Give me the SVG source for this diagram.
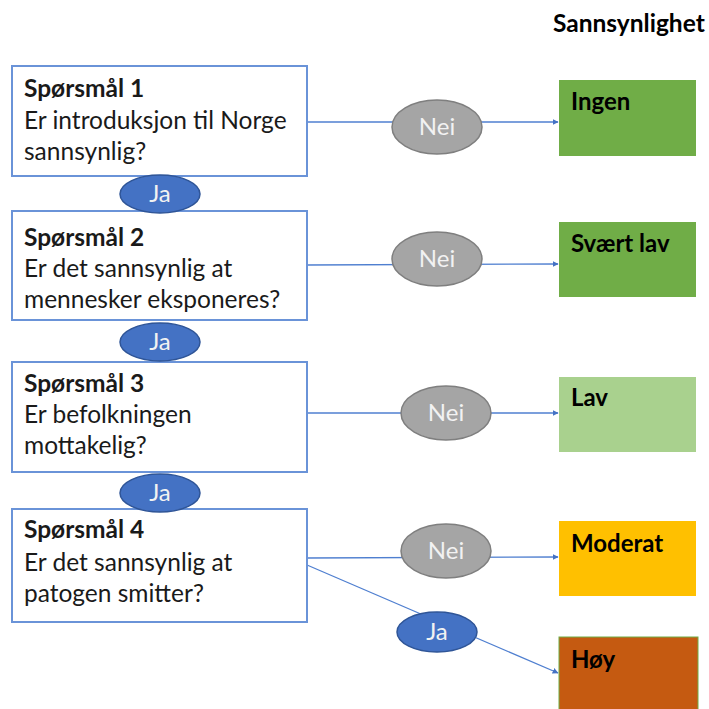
<svg xmlns="http://www.w3.org/2000/svg" width="709" height="709" viewBox="0 0 709 709">
<style>
.q{fill:#fff;stroke:#6a93d8;stroke-width:2}
.t{font-family:Lato,"Liberation Sans",sans-serif;font-size:24.5px;fill:#1a1a1a}
.b{font-weight:bold}
.lbl{font-family:Lato,"Liberation Sans",sans-serif;font-size:24px;font-weight:bold;fill:#000}
.nei{fill:#a5a5a5;stroke:#7f7f7f;stroke-width:1.5}
.ja{fill:#4472c4;stroke:#2f5597;stroke-width:1.5}
.et{font-family:Lato,"Liberation Sans",sans-serif;font-size:24px;fill:#f2f2f2;text-anchor:middle}
.c{stroke:#4f7fd0;stroke-width:1.3;fill:none;marker-end:url(#ah)}
</style>
<defs>
<marker id="ah" viewBox="0 0 10 10" refX="9" refY="5" markerWidth="6" markerHeight="6" orient="auto" markerUnits="userSpaceOnUse">
<path d="M0,0 L10,5 L0,10 z" fill="#4472c4"/>
</marker>
</defs>
<rect width="709" height="709" fill="#fff"/>
<text x="553" y="32" class="lbl" style="font-size:24.5px">Sannsynlighet</text>
<g id="connectors">
<line class="c" x1="307" y1="122" x2="558" y2="122"/>
<line class="c" x1="307" y1="265" x2="558" y2="264"/>
<line class="c" x1="307" y1="413" x2="558" y2="413"/>
<line class="c" x1="307" y1="558" x2="558" y2="557"/>
<line class="c" x1="307" y1="565" x2="558" y2="673"/>
</g>
<g id="q1"><rect class="q" x="12" y="66" width="295" height="110"/>
<text class="t b" x="24" y="97">Spørsmål 1</text><text class="t" x="24" y="129">Er introduksjon til Norge</text><text class="t" x="24" y="160">sannsynlig?</text></g>
<g id="q2"><rect class="q" x="12" y="211" width="295" height="109"/>
<text class="t b" x="24" y="246">Spørsmål 2</text><text class="t" x="24" y="277">Er det sannsynlig at</text><text class="t" x="24" y="308">mennesker eksponeres?</text></g>
<g id="q3"><rect class="q" x="12" y="362" width="295" height="110"/>
<text class="t b" x="24" y="392">Spørsmål 3</text><text class="t" x="24" y="423">Er befolkningen</text><text class="t" x="24" y="454">mottakelig?</text></g>
<g id="q4"><rect class="q" x="12" y="509" width="295" height="113"/>
<text class="t b" x="24" y="538">Spørsmål 4</text><text class="t" x="24" y="571">Er det sannsynlig at</text><text class="t" x="24" y="602">patogen smitter?</text></g>
<g id="ja1"><ellipse class="ja" cx="160" cy="194" rx="40" ry="19"/><text class="et" x="160" y="202">Ja</text></g>
<g id="ja2"><ellipse class="ja" cx="160" cy="342" rx="40" ry="19"/><text class="et" x="160" y="350">Ja</text></g>
<g id="ja3"><ellipse class="ja" cx="160" cy="493" rx="40" ry="19"/><text class="et" x="160" y="501">Ja</text></g>
<g id="ja4"><ellipse class="ja" cx="437" cy="632" rx="40" ry="20"/><text class="et" x="437" y="640">Ja</text></g>
<g id="nei1"><ellipse class="nei" cx="437" cy="127" rx="45" ry="27"/><text class="et" x="437" y="135">Nei</text></g>
<g id="nei2"><ellipse class="nei" cx="437" cy="259" rx="45" ry="27"/><text class="et" x="437" y="267">Nei</text></g>
<g id="nei3"><ellipse class="nei" cx="446" cy="413" rx="45" ry="27"/><text class="et" x="446" y="421">Nei</text></g>
<g id="nei4"><ellipse class="nei" cx="446" cy="551" rx="45" ry="27"/><text class="et" x="446" y="559">Nei</text></g>
<g id="ingen"><rect x="559" y="80" width="137" height="76" fill="#70ad47"/><text class="lbl" x="571" y="110">Ingen</text></g>
<g id="svaert"><rect x="559" y="222" width="137" height="75" fill="#70ad47"/><text class="lbl" x="571" y="252">Svært lav</text></g>
<g id="lav"><rect x="559" y="377" width="137" height="75" fill="#a9d18e"/><text class="lbl" x="571" y="406">Lav</text></g>
<g id="moderat"><rect x="559" y="521" width="137" height="75" fill="#ffc000"/><text class="lbl" x="571" y="552">Moderat</text></g>
<g id="hoy"><rect x="559" y="637" width="139" height="80" fill="#c55a11" stroke="#70ad47" stroke-width="1"/><text class="lbl" x="571" y="668">Høy</text></g>
</svg>
